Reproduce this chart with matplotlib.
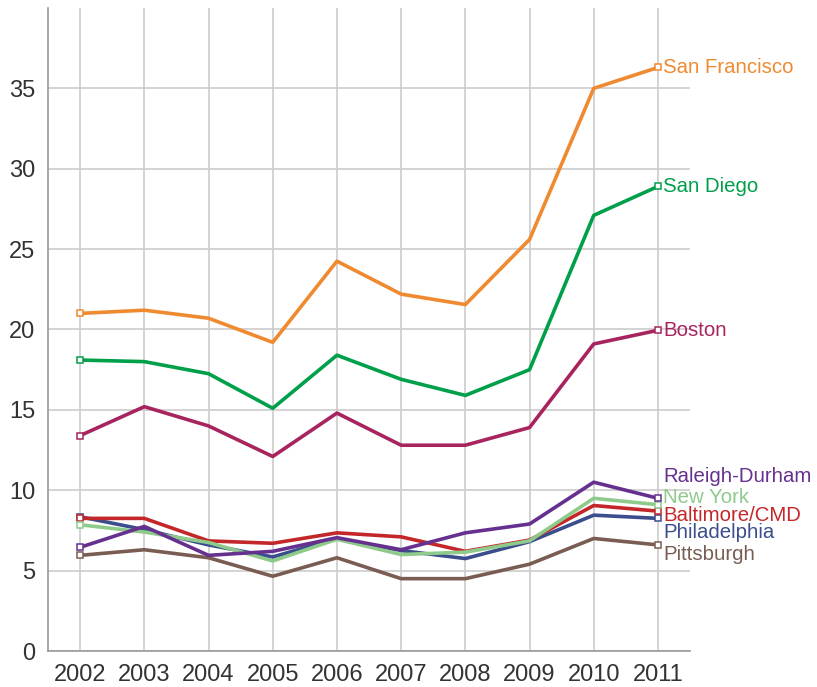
import matplotlib
matplotlib.use("Agg")
import matplotlib.pyplot as plt

years = [2002, 2003, 2004, 2005, 2006, 2007, 2008, 2009, 2010, 2011]

san_francisco = [21.0, 21.2, 20.7, 19.2, 24.25, 22.2, 21.55, 25.6, 35.0, 36.3]
san_diego = [18.1, 18.0, 17.25, 15.1, 18.4, 16.9, 15.9, 17.5, 27.1, 28.9]
boston = [13.4, 15.2, 14.0, 12.1, 14.8, 12.8, 12.8, 13.9, 19.1, 19.95]
raleigh_durham = [6.45, 7.75, 5.95, 6.2, 7.05, 6.3, 7.35, 7.9, 10.5, 9.5]
new_york = [7.85, 7.4, 6.75, 5.6, 6.95, 6.0, 6.15, 6.85, 9.5, 9.1]
baltimore = [8.25, 8.25, 6.85, 6.7, 7.35, 7.1, 6.2, 6.9, 9.05, 8.7]
philadelphia = [8.35, 7.55, 6.6, 5.85, 7.0, 6.25, 5.75, 6.8, 8.45, 8.25]
pittsburgh = [5.95, 6.3, 5.8, 4.65, 5.8, 4.5, 4.5, 5.4, 7.0, 6.6]

y_ticks = [0, 5, 10, 15, 20, 25, 30, 35]

# name, values, colour, label nudge in points (vertical)
series = [
    ("San Francisco", san_francisco, "#f08a30", 0),
    ("San Diego", san_diego, "#00a04a", 0),
    ("Boston", boston, "#a8245e", 0),
    ("Philadelphia", philadelphia, "#3a4d8c", -10),
    ("Pittsburgh", pittsburgh, "#7a5d52", -7),
    ("Baltimore/CMD", baltimore, "#c4272a", -3),
    ("New York", new_york, "#8ecb8b", 5),
    ("Raleigh-Durham", raleigh_durham, "#66308f", 16),
]

fig = plt.figure(figsize=(8.17, 6.87), dpi=100)
ax = fig.add_axes([0.0588, 0.0524, 0.7858, 0.936])

for name, vals, color, nudge in series:
    ax.plot(years, vals, color=color, lw=2.6, solid_capstyle="butt", zorder=3)
    ax.plot([years[0], years[-1]], [vals[0], vals[-1]], ls="none", marker="s",
            ms=4, mfc="white", mec=color, mew=1.1, zorder=4)
    ax.annotate(name, (years[-1], vals[-1]), xytext=(4, nudge),
                textcoords="offset points", va="center", ha="left",
                color=color, fontsize=14.7, family="Liberation Sans",
                annotation_clip=False)

ax.set_xlim(2001.5, 2011.5)
ax.set_ylim(0, 40)
ax.set_xticks(years)
ax.set_yticks(y_ticks)
ax.grid(True, color="#cccccc", lw=1.2, zorder=0)
ax.tick_params(length=0, labelsize=17, labelcolor="#333333", pad=9)
for lab in ax.get_xticklabels() + ax.get_yticklabels():
    lab.set_family("Liberation Sans")

for side in ("top", "right"):
    ax.spines[side].set_visible(False)
for side in ("left", "bottom"):
    ax.spines[side].set_color("#999999")
    ax.spines[side].set_linewidth(1.2)

fig.savefig("out.png", dpi=100)
